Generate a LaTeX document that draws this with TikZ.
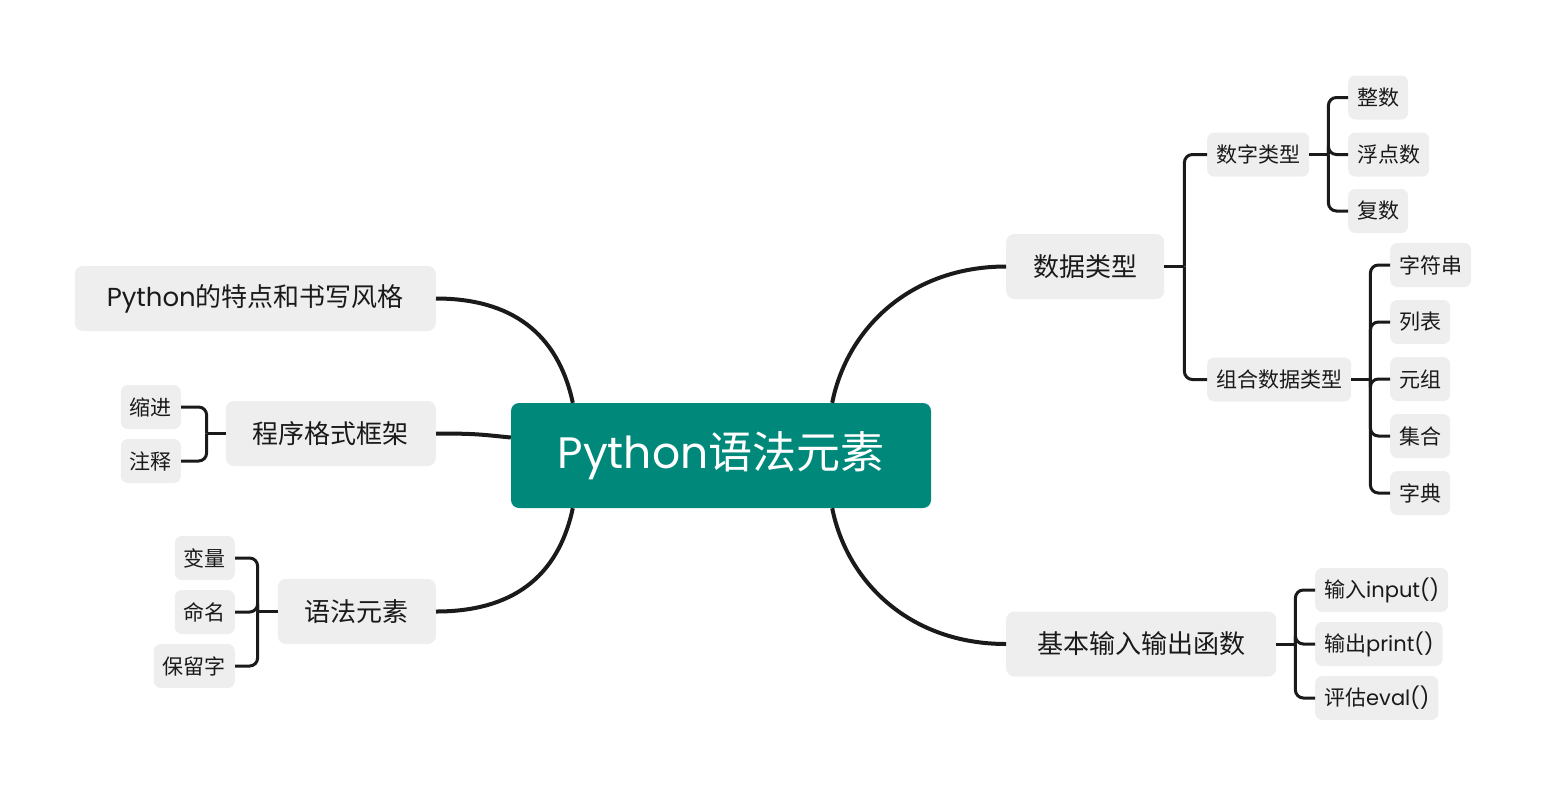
\documentclass[tikz,border=0pt]{standalone}
\usepackage{fontspec}
\setmainfont{Noto Sans CJK SC}
\newfontfamily\latin{Poppins}
\usepackage{tikz}
\definecolor{rootteal}{HTML}{00897B}
\definecolor{boxgray}{HTML}{EEEEEE}
\definecolor{inkgray}{HTML}{1A1A1A}

\begin{document}
\begin{tikzpicture}[x=1pt, y=-1pt,
    root/.style={fill=rootteal, text=white, rounded corners=8pt, minimum width=420pt, minimum height=105pt, font=\fontsize{44}{52}\selectfont},
    topic/.style={fill=boxgray, text=inkgray, rounded corners=8pt, minimum height=65pt, inner xsep=27pt, font=\fontsize{26}{30}\selectfont},
    subtopic/.style={fill=boxgray, text=inkgray, rounded corners=7pt, minimum height=44pt, inner xsep=9pt, font=\fontsize{21}{25}\selectfont},
    mainline/.style={line width=4pt, inkgray},
    branch/.style={line width=3pt, inkgray, rounded corners=8pt}]
        \useasboundingbox (0,0) rectangle (1546,796);

        % Centre and first level
        \node[root] (root) at (721,455.5) {{\latin Python}语法元素};
        \node[topic, anchor=west] (data) at (1006,266.5) {数据类型};
        \node[topic, anchor=west, minimum width=270pt] (io) at (1006,644) {基本输入输出函数};
        \node[topic, anchor=east, minimum width=361pt] (feature) at (436,298.5) {{\latin Python}的特点和书写风格};
        \node[topic, anchor=east] (frame) at (436,433.5) {程序格式框架};
        \node[topic, anchor=east] (syntax) at (436,611.5) {语法元素};

        \draw[mainline] ([xshift=-99pt]root.north east) .. controls +(15,-75) and +(-95,0) .. (data.west);
        \draw[mainline] ([xshift=-99pt]root.south east) .. controls +(15,75) and +(-95,0) .. (io.west);
        \draw[mainline] ([xshift=62pt]root.north west) .. controls +(-15,-70) and +(75,0) .. (feature.east);
        \draw[mainline] ([yshift=18pt]root.west) .. controls +(-30,-3) and +(40,0) .. (frame.east);
        \draw[mainline] ([xshift=62pt]root.south west) .. controls +(-15,70) and +(75,0) .. (syntax.east);

        % Second level
        \node[subtopic, anchor=west] (numtype) at (1207,154.5) {数字类型};
        \node[subtopic, anchor=west] (combtype) at (1207,379.5) {组合数据类型};
        \foreach \n/\t/\y in {int/整数/97.5, float/浮点数/154.5, complex/复数/211}
          \node[subtopic, anchor=west] (\n) at (1348,\y) {\t};
        \foreach \n/\t/\y in {str/字符串/265, list/列表/322, tuple/元组/379, set/集合/436, dict/字典/493}
          \node[subtopic, anchor=west] (\n) at (1390,\y) {\t};
        \node[subtopic, anchor=west] (input) at (1315,590) {输入{\latin input()}};
        \node[subtopic, anchor=west] (print) at (1315,644) {输出{\latin print()}};
        \node[subtopic, anchor=west] (eval) at (1315,698) {评估{\latin eval()}};
        \node[subtopic, anchor=east] (indent) at (181,407) {缩进};
        \node[subtopic, anchor=east] (comment) at (181,461) {注释};
        \foreach \n/\t/\y in {var/变量/558, naming/命名/612, reserved/保留字/666}
          \node[subtopic, anchor=east] (\n) at (235,\y) {\t};

        % Brackets
        \draw[branch] (data.east) -- ++(20,0) coordinate (dataspine);
        \foreach \c in {numtype, combtype}
          \draw[branch] (dataspine) |- (\c.west);
        \draw[branch] (numtype.east) -- ++(19,0) coordinate (numspine);
        \foreach \c in {int, float, complex}
          \draw[branch] (numspine) |- (\c.west);
        \draw[branch] (combtype.east) -- ++(19,0) coordinate (combspine);
        \foreach \c in {str, list, tuple, set, dict}
          \draw[branch] (combspine) |- (\c.west);
        \draw[branch] (io.east) -- ++(19,0) coordinate (iospine);
        \foreach \c in {input, print, eval}
          \draw[branch] (iospine) |- (\c.west);
        \draw[branch] (frame.west) -- ++(-19,0) coordinate (framespine);
        \foreach \c in {indent, comment}
          \draw[branch] (framespine) |- (\c.east);
        \draw[branch] (syntax.west) -- ++(-20,0) coordinate (synspine);
        \foreach \c in {var, naming, reserved}
          \draw[branch] (synspine) |- (\c.east);
      \end{tikzpicture}
\end{document}
